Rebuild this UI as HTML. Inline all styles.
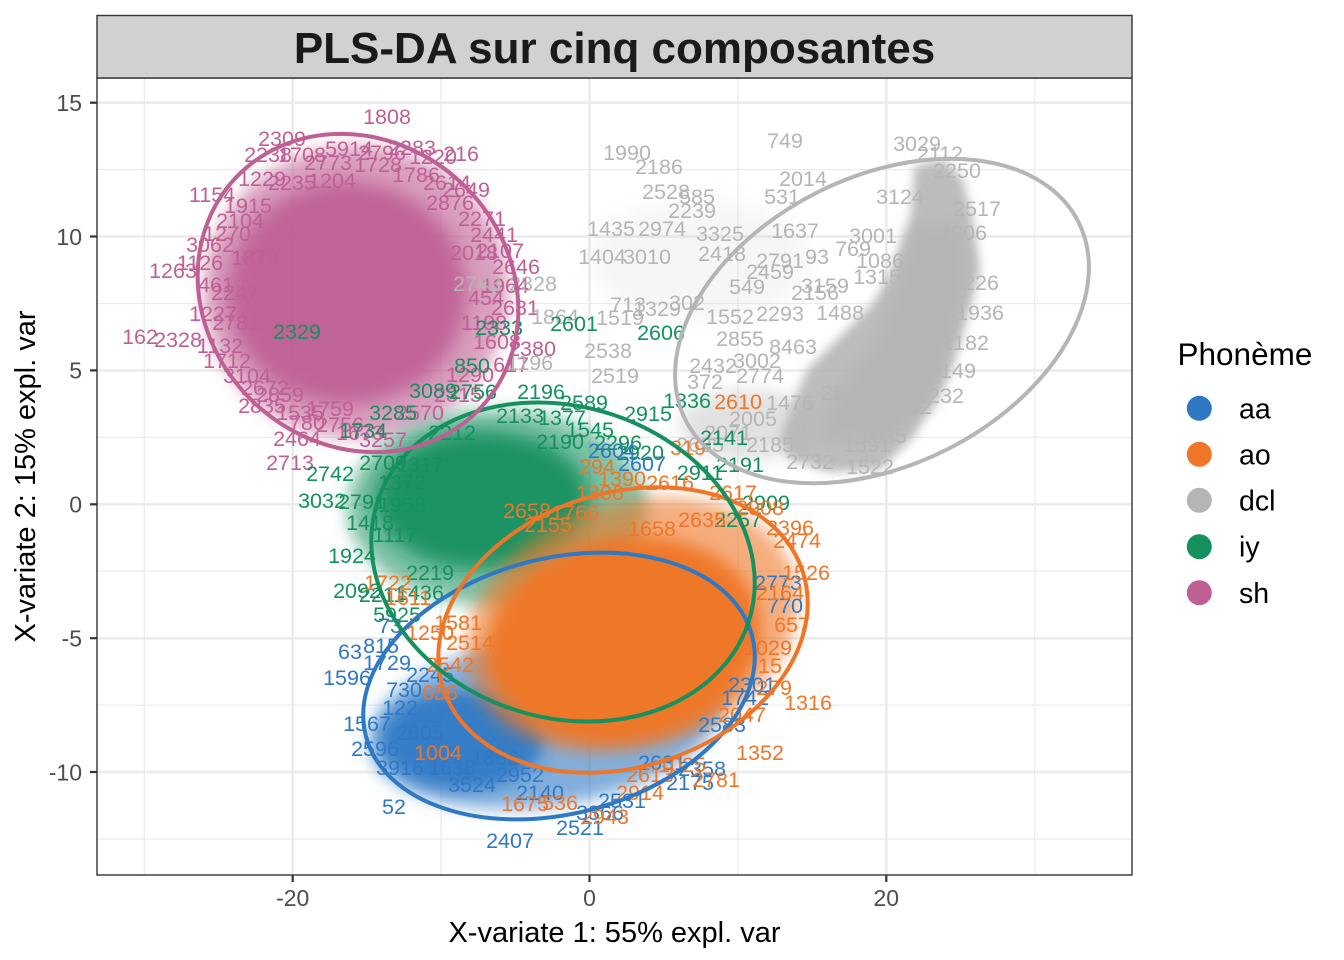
<!DOCTYPE html>
<html><head><meta charset="utf-8"><style>html,body{margin:0;padding:0;background:#fff}svg{display:block}</style></head>
<body>
<svg width="1344" height="960" viewBox="0 0 1344 960" xmlns="http://www.w3.org/2000/svg" font-family="'Liberation Sans', Arial, sans-serif">
<defs>
<filter id="b5" x="-40%" y="-40%" width="180%" height="180%"><feGaussianBlur stdDeviation="5"/></filter>
<filter id="b8" x="-40%" y="-40%" width="180%" height="180%"><feGaussianBlur stdDeviation="8"/></filter>
<filter id="b10" x="-40%" y="-40%" width="180%" height="180%"><feGaussianBlur stdDeviation="10"/></filter>
<clipPath id="pc"><rect x="97" y="78" width="1035" height="797"/></clipPath>
</defs>
<rect width="1344" height="960" fill="#fff"/>
<!-- grid -->
<g stroke="#EBEBEB" stroke-width="1.3">
<line x1="144.3" y1="78" x2="144.3" y2="875"/><line x1="441.1" y1="78" x2="441.1" y2="875"/><line x1="737.9" y1="78" x2="737.9" y2="875"/><line x1="1034.7" y1="78" x2="1034.7" y2="875"/>
<line x1="97" y1="169.6" x2="1132" y2="169.6"/><line x1="97" y1="303.5" x2="1132" y2="303.5"/><line x1="97" y1="437.4" x2="1132" y2="437.4"/><line x1="97" y1="571.2" x2="1132" y2="571.2"/><line x1="97" y1="705.1" x2="1132" y2="705.1"/><line x1="97" y1="839" x2="1132" y2="839"/>
</g>
<g stroke="#EBEBEB" stroke-width="2.6">
<line x1="292.7" y1="78" x2="292.7" y2="875"/><line x1="589.5" y1="78" x2="589.5" y2="875"/><line x1="886.3" y1="78" x2="886.3" y2="875"/>
<line x1="97" y1="102.7" x2="1132" y2="102.7"/><line x1="97" y1="236.5" x2="1132" y2="236.5"/><line x1="97" y1="370.4" x2="1132" y2="370.4"/><line x1="97" y1="504.3" x2="1132" y2="504.3"/><line x1="97" y1="638.2" x2="1132" y2="638.2"/><line x1="97" y1="772" x2="1132" y2="772"/>
</g>
<g clip-path="url(#pc)">
<!-- clouds -->
<g fill="#BF6095">
<ellipse cx="356" cy="292" rx="152" ry="146" fill-opacity="0.6" filter="url(#b8)"/>
<ellipse cx="347" cy="293" rx="120" ry="112" fill-opacity="0.95" filter="url(#b10)"/>
</g>
<g fill="#B5B5B5">
<ellipse cx="750" cy="425" rx="70" ry="35" fill-opacity="0.4" filter="url(#b8)"/>
<ellipse cx="700" cy="260" rx="110" ry="60" fill-opacity="0.12" filter="url(#b10)"/>
<polygon points="915,165 910,220 893,270 873,303 807,370 793,403 780,437 790,460 830,472 880,470 913,437 933,403 950,370 965,320 970,303 980,270 973,220 963,180 945,160" fill-opacity="0.9" filter="url(#b5)"/>
<polygon points="912,225 958,222 970,270 958,330 935,400 890,440 820,440 830,400 875,340 895,285" fill-opacity="1" filter="url(#b8)"/>
</g>
<g fill="#15905F">
<ellipse cx="497" cy="508" rx="150" ry="98" fill-opacity="0.55" filter="url(#b8)"/>
<ellipse cx="482" cy="500" rx="108" ry="70" fill-opacity="0.95" filter="url(#b10)"/>
</g>
<g fill="#2F78C4">
<ellipse cx="545" cy="722" rx="178" ry="84" transform="rotate(-8 545 722)" fill-opacity="0.6" filter="url(#b8)"/>
<ellipse cx="462" cy="740" rx="82" ry="50" fill-opacity="0.9" filter="url(#b8)"/>
</g>
<g fill="#EF7628">
<ellipse cx="632" cy="625" rx="170" ry="122" transform="rotate(-18 632 625)" fill-opacity="0.6" filter="url(#b8)"/>
<ellipse cx="624" cy="640" rx="138" ry="102" transform="rotate(-10 624 640)" fill-opacity="0.98" filter="url(#b8)"/>
</g>
<!-- labels -->
<g font-size="21.5" text-anchor="middle">
<g fill="#BF6095">
<text x="282" y="146">2309</text><text x="268" y="162">2238</text><text x="302" y="162">1708</text><text x="387" y="124">1808</text><text x="349" y="156">5914</text><text x="382" y="160">2796</text><text x="412" y="155">2283</text><text x="433" y="164">1220</text><text x="461" y="161">216</text><text x="328" y="170">2773</text><text x="378" y="172">1728</text><text x="262" y="186">1229</text><text x="292" y="190">2235</text><text x="332" y="188">1204</text><text x="416" y="182">1786</text><text x="447" y="190">2614</text><text x="466" y="197">2649</text><text x="212" y="202">1154</text><text x="248" y="213">1915</text><text x="482" y="226">2271</text><text x="494" y="242">2441</text><text x="227" y="241">1270</text><text x="210" y="252">3062</text><text x="200" y="270">1126</text><text x="173" y="278">1263</text><text x="216" y="292">461</text><text x="516" y="274">2646</text><text x="505" y="293">1964</text><text x="213" y="321">1227</text><text x="236" y="330">2781</text><text x="140" y="344">162</text><text x="178" y="347">2328</text><text x="220" y="353">1132</text><text x="227" y="368">1712</text><text x="247" y="383">3104</text><text x="280" y="402">2859</text><text x="307" y="430">780</text><text x="297" y="446">2464</text><text x="383" y="447">3257</text><text x="515" y="315">2681</text><text x="497" y="349">1608</text><text x="532" y="356">2380</text><text x="511" y="372">617</text><text x="340" y="432">2756</text><text x="420" y="420">2570</text><text x="458" y="402">2315</text><text x="470" y="382">1290</text><text x="262" y="413">2835</text><text x="330" y="416">1759</text><text x="484" y="330">1198</text><text x="474" y="260">2018</text><text x="486" y="305">454</text><text x="240" y="228">2104</text><text x="255" y="265">1873</text><text x="235" y="300">2247</text><text x="300" y="420">1535</text><text x="360" y="440">1673</text><text x="450" y="210">2876</text><text x="500" y="258">2107</text><text x="265" y="395">2672</text><text x="290" y="470">2713</text>
</g>
<g fill="#B5B5B5">
<text x="785" y="148">749</text><text x="917" y="151">3029</text><text x="940" y="161">2112</text><text x="627" y="160">1990</text><text x="659" y="174">2186</text><text x="803" y="186">2014</text><text x="666" y="199">2528</text><text x="697" y="204">585</text><text x="782" y="204">531</text><text x="692" y="218">2239</text><text x="611" y="236">1435</text><text x="662" y="236">2974</text><text x="720" y="241">3325</text><text x="795" y="238">1637</text><text x="602" y="264">1404</text><text x="647" y="264">3010</text><text x="722" y="261">2418</text><text x="873" y="243">3001</text><text x="853" y="256">769</text><text x="780" y="268">2791</text><text x="817" y="264">93</text><text x="880" y="268">1086</text><text x="770" y="279">2459</text><text x="747" y="294">549</text><text x="825" y="293">3159</text><text x="877" y="284">1315</text><text x="628" y="312">713</text><text x="657" y="316">1329</text><text x="687" y="310">302</text><text x="730" y="324">1552</text><text x="780" y="321">2293</text><text x="740" y="346">2855</text><text x="793" y="354">8463</text><text x="608" y="358">2538</text><text x="615" y="383">2519</text><text x="713" y="373">2432</text><text x="757" y="368">3002</text><text x="760" y="383">2774</text><text x="705" y="389">372</text><text x="753" y="426">2005</text><text x="883" y="443">1935</text><text x="870" y="474">1522</text><text x="810" y="469">2732</text><text x="867" y="452">1591</text><text x="952" y="378">2149</text><text x="940" y="403">2232</text><text x="920" y="414">52</text><text x="977" y="216">2517</text><text x="957" y="178">2250</text><text x="900" y="204">3124</text><text x="963" y="240">2906</text><text x="975" y="290">2226</text><text x="980" y="320">1936</text><text x="965" y="350">2182</text><text x="840" y="320">1488</text><text x="815" y="300">2156</text><text x="790" y="410">1476</text><text x="728" y="440">2071</text><text x="770" y="452">2185</text><text x="700" y="452">2635</text><text x="845" y="400">2547</text><text x="533" y="291">2328</text><text x="477" y="291">2743</text><text x="555" y="324">1864</text><text x="530" y="370">1196</text><text x="620" y="325">1519</text>
</g>
<g fill="#15905F">
<text x="330" y="481">2742</text><text x="322" y="508">3032</text><text x="362" y="509">2791</text><text x="402" y="512">1958</text><text x="352" y="563">1924</text><text x="357" y="598">2092</text><text x="382" y="602">2211</text><text x="397" y="622">5925</text><text x="297" y="339">2329</text><text x="499" y="335">2333</text><text x="472" y="373">850</text><text x="433" y="398">3089</text><text x="473" y="399">2756</text><text x="541" y="399">2196</text><text x="393" y="420">3285</text><text x="363" y="438">1734</text><text x="574" y="331">2601</text><text x="661" y="340">2606</text><text x="648" y="421">2915</text><text x="687" y="408">1336</text><text x="766" y="510">2909</text><text x="562" y="425">1377</text><text x="590" y="437">1545</text><text x="618" y="450">2296</text><text x="560" y="449">2190</text><text x="420" y="472">1317</text><text x="383" y="470">2709</text><text x="402" y="490">1372</text><text x="395" y="542">1117</text><text x="724" y="445">2141</text><text x="740" y="472">2191</text><text x="738" y="527">2257</text><text x="584" y="410">2589</text><text x="520" y="423">2133</text><text x="452" y="440">2212</text><text x="430" y="580">2219</text><text x="370" y="530">1418</text><text x="640" y="460">2920</text><text x="700" y="480">2911</text><text x="420" y="600">1436</text>
</g>
<g fill="#2F78C4">
<text x="350" y="659">63</text><text x="381" y="653">815</text><text x="390" y="633">73</text><text x="347" y="685">1596</text><text x="404" y="697">730</text><text x="367" y="731">1567</text><text x="400" y="715">122</text><text x="375" y="756">2596</text><text x="400" y="775">3916</text><text x="394" y="814">52</text><text x="510" y="848">2407</text><text x="580" y="835">2521</text><text x="702" y="776">2358</text><text x="612" y="458">2604</text><text x="642" y="471">2607</text><text x="785" y="613">770</text><text x="452" y="775">1638</text><text x="420" y="740">2805</text><text x="472" y="792">3524</text><text x="540" y="800">2140</text><text x="622" y="808">2531</text><text x="662" y="770">2631</text><text x="722" y="732">2583</text><text x="752" y="692">2301</text><text x="430" y="682">2245</text><text x="387" y="670">1729</text><text x="778" y="590">2773</text><text x="495" y="765">1866</text><text x="520" y="782">2952</text><text x="600" y="820">3366</text><text x="690" y="790">2175</text><text x="745" y="705">1742</text>
</g>
<g fill="#EF7628">
<text x="388" y="590">1722</text><text x="408" y="605">1611</text><text x="738" y="409">2610</text><text x="688" y="455">319</text><text x="597" y="474">294</text><text x="622" y="486">1390</text><text x="670" y="490">2616</text><text x="527" y="518">2658</text><text x="600" y="500">1306</text><text x="652" y="536">1658</text><text x="702" y="527">2635</text><text x="790" y="535">2396</text><text x="797" y="548">2474</text><text x="806" y="580">1526</text><text x="792" y="632">657</text><text x="808" y="710">1316</text><text x="716" y="787">2781</text><text x="605" y="824">2943</text><text x="525" y="811">1675</text><text x="438" y="760">1004</text><text x="770" y="673">15</text><text x="768" y="655">1029</text><text x="774" y="695">279</text><text x="742" y="722">2047</text><text x="682" y="772">1025</text><text x="650" y="782">2613</text><text x="470" y="650">2514</text><text x="458" y="630">1581</text><text x="440" y="700">656</text><text x="560" y="810">536</text><text x="640" y="800">2914</text><text x="733" y="500">2617</text><text x="760" y="515">2908</text><text x="780" y="600">2164</text><text x="760" y="760">1352</text><text x="450" y="672">2542</text><text x="430" y="640">1250</text><text x="548" y="532">2155</text><text x="575" y="520">1766</text>
</g>
</g>
<!-- ellipses -->
<g fill="none" stroke-width="4">
<ellipse cx="559" cy="686" rx="199.5" ry="127.7" transform="rotate(-14.5 559 686)" stroke="#2F78C4"/>
<ellipse cx="623" cy="630" rx="189" ry="137" transform="rotate(-18 623 630)" stroke="#EF7628"/>
<ellipse cx="882" cy="321" rx="220" ry="144" transform="rotate(-26.7 882 321)" stroke="#B5B5B5"/>
<ellipse cx="563" cy="562" rx="195" ry="155.5" transform="rotate(17.6 563 562)" stroke="#15905F"/>
<ellipse cx="358" cy="293" rx="168" ry="151" transform="rotate(43 358 293)" stroke="#BF6095"/>
</g>
</g>
<!-- panel border & strip -->
<rect x="97" y="78" width="1035" height="797" fill="none" stroke="#333333" stroke-width="1.4"/>
<rect x="97" y="15.5" width="1035" height="62.5" fill="#D1D1D1" stroke="#333333" stroke-width="1.4"/>
<text x="614.5" y="63" font-size="44" font-weight="bold" text-anchor="middle" fill="#1A1A1A">PLS-DA sur cinq composantes</text>
<!-- ticks -->
<g stroke="#333333" stroke-width="2.2">
<line x1="90" y1="102.7" x2="97" y2="102.7"/><line x1="90" y1="236.5" x2="97" y2="236.5"/><line x1="90" y1="370.4" x2="97" y2="370.4"/><line x1="90" y1="504.3" x2="97" y2="504.3"/><line x1="90" y1="638.2" x2="97" y2="638.2"/><line x1="90" y1="772" x2="97" y2="772"/>
<line x1="292.7" y1="875" x2="292.7" y2="882"/><line x1="589.5" y1="875" x2="589.5" y2="882"/><line x1="886.3" y1="875" x2="886.3" y2="882"/>
</g>
<g font-size="23" fill="#4D4D4D">
<g text-anchor="end">
<text x="82" y="111">15</text><text x="82" y="244.8">10</text><text x="82" y="378.7">5</text><text x="82" y="512.6">0</text><text x="82" y="646.5">-5</text><text x="82" y="780.3">-10</text>
</g>
<g text-anchor="middle">
<text x="292.7" y="906">-20</text><text x="589.5" y="906">0</text><text x="886.3" y="906">20</text>
</g>
</g>
<text x="614.5" y="942" font-size="29" text-anchor="middle" fill="#000">X-variate 1: 55% expl. var</text>
<text x="0" y="0" font-size="29" text-anchor="middle" fill="#000" transform="translate(35 476.5) rotate(-90)">X-variate 2: 15% expl. var</text>
<!-- legend -->
<text x="1177.5" y="365" font-size="31.5" fill="#000">Phonème</text>
<circle cx="1199.3" cy="408.3" r="12.5" fill="#2F78C4"/>
<circle cx="1199.3" cy="454.3" r="12.5" fill="#EF7628"/>
<circle cx="1199.3" cy="500.3" r="12.5" fill="#B5B5B5"/>
<circle cx="1199.3" cy="546.7" r="12.5" fill="#15905F"/>
<circle cx="1199.3" cy="592.7" r="12.5" fill="#BF6095"/>
<g font-size="28.5" fill="#000">
<text x="1239" y="418.3">aa</text><text x="1239" y="464.3">ao</text><text x="1239" y="510.5">dcl</text><text x="1239" y="556.7">iy</text><text x="1239" y="603">sh</text>
</g>
</svg>
</body></html>
